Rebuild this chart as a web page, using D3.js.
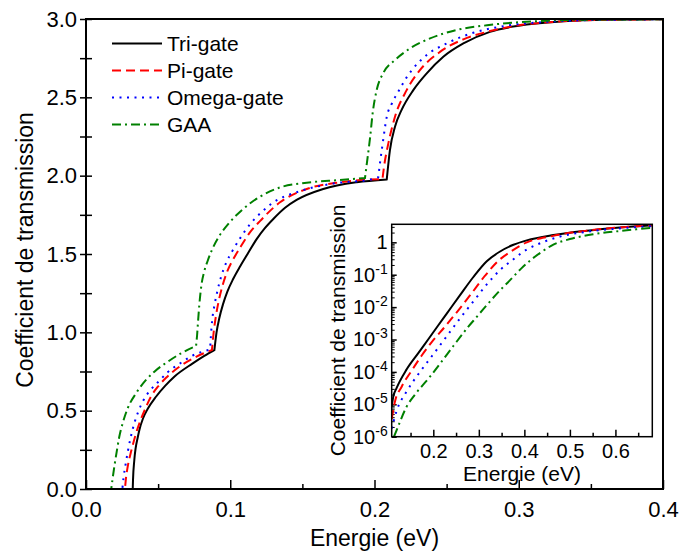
<!DOCTYPE html>
<html>
<head>
<meta charset="utf-8">
<script src="https://cdn.jsdelivr.net/npm/d3@7"></script>
<style>
  body { margin: 0; background: #fff; }
  svg { display: block; font-family: Arial, "Liberation Sans", sans-serif; }
</style>
</head>
<body>
<svg width="680" height="554"></svg>
<script>
// series names + styles
const seriesNames = ["Tri-gate", "Pi-gate", "Omega-gate", "GAA"];
const seriesColors = ["#000000", "#ff0000", "#0000ff", "#008000"];
const seriesDash = [null, "9,5", "2,5.5", "9,4,2,4"];

// main plot: [energy (eV), transmission]
const triMain = [[0, 0], [0.0324, 0], [0.0326, 0.06], [0.0335, 0.185], [0.036, 0.335], [0.037, 0.377], [0.0395, 0.45],
  [0.0427, 0.51], [0.0485, 0.589], [0.055, 0.66], [0.0612, 0.717], [0.074, 0.802], [0.082, 0.85], [0.089, 0.887],
  [0.0905, 1.0], [0.0924, 1.09], [0.095, 1.18], [0.098, 1.26], [0.102, 1.34], [0.1068, 1.42], [0.112, 1.5],
  [0.1183, 1.595], [0.124, 1.665], [0.13, 1.725], [0.138, 1.795], [0.146, 1.845], [0.1645, 1.915], [0.1877, 1.958],
  [0.2085, 1.976], [0.2107, 2.163], [0.2142, 2.312], [0.2188, 2.42], [0.2269, 2.546], [0.2362, 2.653],
  [0.2477, 2.759], [0.2616, 2.844], [0.28, 2.918], [0.3, 2.957], [0.331, 2.985], [0.36, 2.995], [0.4, 2.998]];
const piMain = [[0, 0], [0.027, 0], [0.0276, 0.06], [0.0289, 0.142], [0.031, 0.23], [0.0324, 0.28], [0.0345, 0.35],
  [0.037, 0.419], [0.041, 0.51], [0.045, 0.589], [0.05, 0.655], [0.0555, 0.71], [0.0647, 0.78], [0.0763, 0.844],
  [0.082, 0.868], [0.0873, 0.887], [0.0885, 1.0], [0.09, 1.1], [0.092, 1.2], [0.0947, 1.3], [0.098, 1.39],
  [0.1017, 1.46], [0.1068, 1.54], [0.113, 1.63], [0.1206, 1.71], [0.1345, 1.83], [0.153, 1.915], [0.176, 1.958],
  [0.2055, 1.978], [0.2065, 2.05], [0.2096, 2.206], [0.2142, 2.376], [0.2223, 2.546], [0.2315, 2.674],
  [0.2454, 2.79], [0.2616, 2.87], [0.278, 2.918], [0.3, 2.96], [0.33, 2.985], [0.36, 2.995], [0.4, 2.998]];
const omegaMain = [[0, 0], [0.0252, 0], [0.026, 0.07], [0.0275, 0.16], [0.029, 0.24], [0.031, 0.33], [0.0335, 0.42],
  [0.0365, 0.5], [0.04, 0.57], [0.045, 0.635], [0.0497, 0.68], [0.0566, 0.745], [0.0659, 0.806], [0.0735, 0.85],
  [0.0813, 0.878], [0.086, 0.89], [0.0866, 0.98], [0.0875, 1.08], [0.089, 1.17], [0.091, 1.26], [0.0935, 1.35],
  [0.097, 1.44], [0.1015, 1.52], [0.1068, 1.6], [0.1137, 1.69], [0.122, 1.77], [0.13, 1.83], [0.148, 1.9],
  [0.1715, 1.95], [0.197, 1.975], [0.2026, 1.99], [0.2038, 2.08], [0.206, 2.227], [0.2085, 2.376], [0.212, 2.46],
  [0.2165, 2.536], [0.2211, 2.61], [0.2269, 2.685], [0.2362, 2.77], [0.25, 2.844], [0.2685, 2.912], [0.29, 2.955],
  [0.32, 2.982], [0.36, 2.995], [0.4, 2.998]];
const gaaMain = [[0, 0], [0.0175, 0], [0.0185, 0.07], [0.02, 0.165], [0.0215, 0.25], [0.023, 0.33], [0.0254, 0.419],
  [0.0289, 0.515], [0.0347, 0.611], [0.0416, 0.696], [0.0474, 0.749], [0.0566, 0.812], [0.0659, 0.866],
  [0.0763, 0.913], [0.077, 0.98], [0.0776, 1.06], [0.0786, 1.18], [0.08, 1.3], [0.082, 1.39], [0.0845, 1.46],
  [0.0875, 1.53], [0.0924, 1.615], [0.0994, 1.7], [0.1086, 1.785], [0.1206, 1.866], [0.1345, 1.925], [0.153, 1.955],
  [0.176, 1.972], [0.1934, 1.985], [0.195, 2.1], [0.197, 2.248], [0.1987, 2.397], [0.2015, 2.546], [0.206, 2.653],
  [0.2142, 2.738], [0.2246, 2.812], [0.2385, 2.876], [0.257, 2.93], [0.278, 2.96], [0.31, 2.985], [0.35, 2.996],
  [0.4, 2.998]];

// inset (log scale)
const triInset = [[0.1086, 8.5e-6], [0.112, 1.7e-5], [0.1195, 3.2e-5], [0.1415, 1.2e-4], [0.167, 3.8e-4],
  [0.189, 1.02e-3], [0.211, 2.75e-3], [0.2295, 6.3e-3], [0.2587, 2.34e-2], [0.288, 8.5e-2], [0.3174, 0.26],
  [0.3466, 0.52], [0.376, 0.84], [0.4053, 1.15], [0.4637, 1.68], [0.537, 2.29], [0.61, 2.88], [0.681, 3.39]];
const piInset = [[0.1086, 3.5e-6], [0.1157, 1.2e-5], [0.1305, 3.5e-5], [0.1525, 1.1e-4], [0.1745, 3.2e-4],
  [0.1965, 8.3e-4], [0.2257, 2.5e-3], [0.255, 8.0e-3], [0.2844, 2.7e-2], [0.3136, 9.3e-2], [0.343, 0.27],
  [0.372, 0.54], [0.4053, 1.0], [0.4345, 1.32], [0.4637, 1.58], [0.493, 1.91], [0.537, 2.29], [0.566, 2.57],
  [0.61, 2.88], [0.681, 3.39]];
const omegaInset = [[0.1086, 1.8e-6], [0.1195, 6.3e-6], [0.1415, 2.5e-5], [0.1707, 1.0e-4], [0.2, 3.5e-4],
  [0.2295, 1.26e-3], [0.2587, 4.5e-3], [0.288, 1.5e-2], [0.3174, 5.0e-2], [0.3466, 0.14], [0.376, 0.3],
  [0.4053, 0.6], [0.4308, 0.89], [0.4785, 1.51], [0.5444, 2.19], [0.6176, 2.75], [0.681, 3.16]];
const gaaInset = [[0.1136, 1.0e-6], [0.1195, 1.6e-6], [0.1415, 8.5e-6], [0.1598, 2.0e-5], [0.1927, 7.1e-5],
  [0.2185, 2.1e-4], [0.244, 6.3e-4], [0.277, 2.5e-3], [0.2954, 5.0e-3], [0.3136, 1.0e-2], [0.3466, 3.3e-2],
  [0.3686, 6.8e-2], [0.394, 0.16], [0.416, 0.3], [0.4382, 0.51], [0.4637, 0.85], [0.5, 1.26], [0.5513, 1.78],
  [0.61, 2.24], [0.681, 2.82]];

const mainSeries = [triMain, piMain, omegaMain, gaaMain];
const insetSeries = [triInset, piInset, omegaInset, gaaInset];

const xMajor = [0, 0.1, 0.2, 0.3, 0.4];
const xMinor = [0.05, 0.15, 0.25, 0.35];
const yTicks = [0, 0.25, 0.5, 0.75, 1, 1.25, 1.5, 1.75, 2, 2.25, 2.5, 2.75, 3];
const insetXMajor = [0.2, 0.3, 0.4, 0.5, 0.6];
const insetXMinor = [0.15, 0.25, 0.35, 0.45, 0.55, 0.65];
const insetDecades = [1e-6, 1e-5, 1e-4, 1e-3, 1e-2, 1e-1, 1];

const svg = d3.select("svg");

// builds one path, smooth inside each piece but sharp at the kinks
function kinkedPath(pts, sx, sy) {
  const px = pts.map((d) => [sx(d[0]), sy(d[1])]);
  const parts = [[px[0]]];
  for (let i = 1; i < px.length; i++) {
    parts[parts.length - 1].push(px[i]);
    if (i < px.length - 1) {
      const s0 = (px[i - 1][1] - px[i][1]) / (px[i][0] - px[i - 1][0]);
      const s1 = (px[i][1] - px[i + 1][1]) / (px[i + 1][0] - px[i][0]);
      if (s1 > 3 * s0 + 1e-9 && s1 > 1) parts.push([px[i]]);
    }
  }
  const line = d3.line().curve(d3.curveMonotoneX);
  return parts
    .map((p, i) => (i === 0 ? line(p) : line(p).replace(/^M[^A-Za-z]*/, "")))
    .join("");
}

function styleAxis(g, size) {
  g.attr("font-family", null).attr("font-size", size);
  g.select(".domain").remove();
  g.selectAll("line").attr("stroke", "#000").attr("stroke-width", 1.5);
  g.selectAll("text").attr("fill", "#000");
}

// ---------- main plot ----------
const x = d3.scaleLinear().domain([0, 0.4]).range([86, 663]);
const y = d3.scaleLinear().domain([0, 3]).range([489, 19]);

svg.append("clipPath").attr("id", "clipMain")
  .append("rect").attr("x", 86).attr("y", 17).attr("width", 577).attr("height", 473);

const fmt1 = d3.format(".1f");

svg.append("g").attr("transform", "translate(0,489)")
  .call(d3.axisBottom(x).tickValues(xMajor).tickSize(-9).tickPadding(12).tickFormat(fmt1))
  .call((g) => styleAxis(g, 22));
svg.append("g").attr("transform", "translate(0,489)")
  .call(d3.axisBottom(x).tickValues(xMinor).tickSize(-5).tickFormat(""))
  .call((g) => styleAxis(g, 22));

svg.append("g").attr("transform", "translate(86,0)")
  .call(d3.axisLeft(y).tickValues(yTicks).tickSize(6).tickPadding(3)
    .tickFormat((d) => (d * 2) % 1 === 0 ? fmt1(d) : ""))
  .call((g) => styleAxis(g, 22));
svg.append("g").attr("transform", "translate(86,0)")
  .call(d3.axisLeft(y).tickValues(yTicks).tickSize(-6).tickFormat(""))
  .call((g) => styleAxis(g, 22));

const mainCurves = svg.append("g").attr("clip-path", "url(#clipMain)");
mainSeries.forEach((s, i) => {
  mainCurves.append("path")
    .attr("d", kinkedPath(s, x, y))
    .attr("fill", "none")
    .attr("stroke", seriesColors[i])
    .attr("stroke-width", 2)
    .attr("stroke-dasharray", seriesDash[i]);
});

svg.append("rect").attr("x", 86).attr("y", 19).attr("width", 577).attr("height", 470)
  .attr("fill", "none").attr("stroke", "#000").attr("stroke-width", 2);

svg.append("text").attr("x", 374.5).attr("y", 546).attr("text-anchor", "middle")
  .attr("font-size", 23).text("Energie (eV)");
svg.append("text").attr("transform", "translate(33,250) rotate(-90)").attr("text-anchor", "middle")
  .attr("font-size", 23).text("Coefficient de transmission");

// legend
const legend = svg.append("g");
seriesNames.forEach((name, i) => {
  const ly = 43.5 + i * 27;
  legend.append("line").attr("x1", 112).attr("x2", 162).attr("y1", ly).attr("y2", ly)
    .attr("stroke", seriesColors[i]).attr("stroke-width", 2).attr("stroke-dasharray", seriesDash[i]);
  legend.append("text").attr("x", 167).attr("y", ly).attr("dy", "0.35em")
    .attr("font-size", 21).text(name);
});

// ---------- inset ----------
const xi = d3.scaleLinear().domain([0.1086, 0.681]).range([391.7, 652.3]);
const yi = d3.scaleLog().domain([1e-6, 3.6]).range([436.7, 224.3]);

svg.append("rect").attr("x", 391.7).attr("y", 224.3).attr("width", 260.6).attr("height", 212.4).attr("fill", "#fff");
svg.append("clipPath").attr("id", "clipInset")
  .append("rect").attr("x", 391.7).attr("y", 224.3).attr("width", 260.6).attr("height", 212.4);

svg.append("g").attr("transform", "translate(0,436.7)")
  .call(d3.axisBottom(xi).tickValues(insetXMajor).tickSize(-7).tickPadding(7.5).tickFormat(fmt1))
  .call((g) => styleAxis(g, 20));
svg.append("g").attr("transform", "translate(0,436.7)")
  .call(d3.axisBottom(xi).tickValues(insetXMinor).tickSize(-4).tickFormat(""))
  .call((g) => styleAxis(g, 20));

const insetMinorY = [];
insetDecades.forEach((d) => {
  for (let k = 2; k <= 9; k++) if (d * k <= 3.6) insetMinorY.push(d * k);
});
svg.append("g").attr("transform", "translate(391.7,0)")
  .call(d3.axisLeft(yi).tickValues(insetMinorY).tickSize(-3).tickFormat(""))
  .call((g) => styleAxis(g, 20))
  .call((g) => g.selectAll("line").attr("stroke-width", 1));
svg.append("g").attr("transform", "translate(391.7,0)")
  .call(d3.axisLeft(yi).tickValues(insetDecades).tickSize(-5).tickPadding(4).tickFormat(""))
  .call((g) => styleAxis(g, 20))
  .call((g) => g.selectAll(".tick text").each(function (d) {
    const t = d3.select(this);
    const p = Math.round(Math.log10(d));
    if (p === 0) { t.text("1"); return; }
    t.append("tspan").text("10");
    t.append("tspan").attr("dy", -8).attr("font-size", 14).text(String(p));
  }));

const insetCurves = svg.append("g").attr("clip-path", "url(#clipInset)");
insetSeries.forEach((s, i) => {
  insetCurves.append("path")
    .attr("d", kinkedPath(s, xi, yi))
    .attr("fill", "none")
    .attr("stroke", seriesColors[i])
    .attr("stroke-width", 2)
    .attr("stroke-dasharray", seriesDash[i]);
});

svg.append("rect").attr("x", 391.7).attr("y", 224.3).attr("width", 260.6).attr("height", 212.4)
  .attr("fill", "none").attr("stroke", "#000").attr("stroke-width", 1.5);

svg.append("text").attr("x", 522).attr("y", 481).attr("text-anchor", "middle")
  .attr("font-size", 21).text("Energie (eV)");
svg.append("text").attr("transform", "translate(345,330.5) rotate(-90)").attr("text-anchor", "middle")
  .attr("font-size", 21).text("Coefficient de transmission");
</script>
</body>
</html>
